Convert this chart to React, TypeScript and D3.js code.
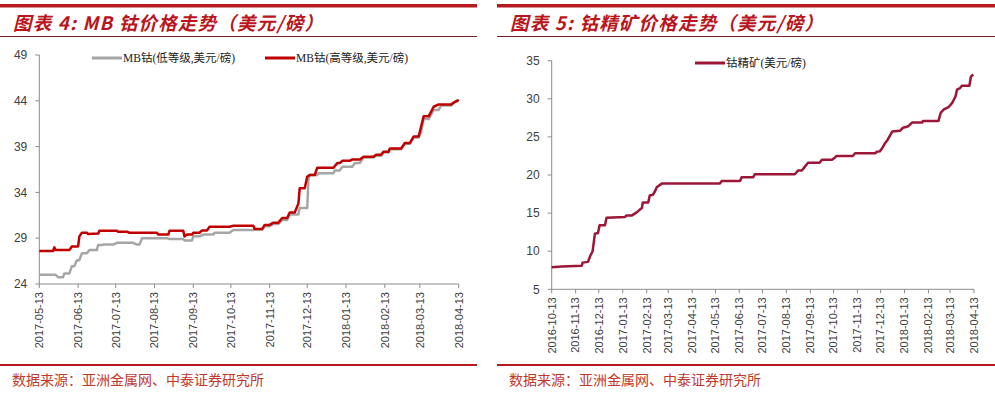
import React from "react";
import * as d3 from "d3";

// ---------- DATA ----------
const leftTitle = "图表 4:  MB 钴价格走势（美元/磅）";
const rightTitle = "图表 5:  钴精矿价格走势（美元/磅）";
const sourceText = "数据来源：亚洲金属网、中泰证券研究所";

const leftSeriesNames = ["MB钴(低等级,美元/磅)", "MB钴(高等级,美元/磅)"];
const rightSeriesName = "钴精矿(美元/磅)";

const leftYTicks = [24, 29, 34, 39, 44, 49];
const rightYTicks = [5, 10, 15, 20, 25, 30, 35];

const leftXTicks = [
  "2017-05-13", "2017-06-13", "2017-07-13", "2017-08-13", "2017-09-13", "2017-10-13",
  "2017-11-13", "2017-12-13", "2018-01-13", "2018-02-13", "2018-03-13", "2018-04-13",
];
const rightXTicks = [
  "2016-10-13", "2016-11-13", "2016-12-13", "2017-01-13", "2017-02-13", "2017-03-13",
  "2017-04-13", "2017-05-13", "2017-06-13", "2017-07-13", "2017-08-13", "2017-09-13",
  "2017-10-13", "2017-11-13", "2017-12-13", "2018-01-13", "2018-02-13", "2018-03-13",
  "2018-04-13",
];

const mbLow: [string, number][] = [
  ["2017-05-13", 25.0], ["2017-05-26", 25.0], ["2017-05-28", 24.75], ["2017-06-01", 24.75],
  ["2017-06-02", 25.15], ["2017-06-06", 25.15], ["2017-06-08", 25.95], ["2017-06-10", 25.95],
  ["2017-06-12", 26.6], ["2017-06-14", 26.6], ["2017-06-16", 27.35], ["2017-06-20", 27.35],
  ["2017-06-22", 27.7], ["2017-06-28", 27.7], ["2017-06-29", 28.25], ["2017-07-02", 28.25],
  ["2017-07-03", 28.3], ["2017-07-11", 28.3], ["2017-07-14", 28.5], ["2017-07-27", 28.5],
  ["2017-07-30", 28.3], ["2017-08-01", 28.3], ["2017-08-03", 29.0], ["2017-08-23", 29.0],
  ["2017-08-25", 28.9], ["2017-09-05", 28.9], ["2017-09-06", 28.75], ["2017-09-12", 28.75],
  ["2017-09-13", 29.2], ["2017-09-18", 29.2], ["2017-09-21", 29.4], ["2017-09-29", 29.4],
  ["2017-09-30", 29.6], ["2017-10-12", 29.6], ["2017-10-15", 29.9], ["2017-10-31", 29.9],
  ["2017-11-01", 29.95], ["2017-11-07", 29.95], ["2017-11-09", 30.3], ["2017-11-13", 30.3],
  ["2017-11-16", 30.55], ["2017-11-20", 30.55], ["2017-11-23", 31.0], ["2017-11-27", 31.0],
  ["2017-11-29", 31.6], ["2017-12-06", 31.6], ["2017-12-07", 32.3], ["2017-12-13", 32.3],
  ["2017-12-14", 35.5], ["2017-12-15", 35.9], ["2017-12-21", 35.9], ["2017-12-22", 36.1],
  ["2018-01-03", 36.1], ["2018-01-04", 36.4], ["2018-01-08", 36.4], ["2018-01-10", 36.8],
  ["2018-01-18", 36.8], ["2018-01-20", 37.2], ["2018-01-24", 37.2], ["2018-01-27", 37.8],
  ["2018-02-04", 37.8], ["2018-02-06", 38.0], ["2018-02-10", 38.0], ["2018-02-12", 38.35],
  ["2018-02-16", 38.35], ["2018-02-17", 38.7], ["2018-02-26", 38.7], ["2018-03-01", 39.3],
  ["2018-03-05", 39.3], ["2018-03-08", 40.0], ["2018-03-12", 40.0], ["2018-03-14", 40.6],
  ["2018-03-16", 42.0], ["2018-03-20", 42.0], ["2018-03-24", 43.0], ["2018-03-28", 43.0],
  ["2018-03-30", 43.5], ["2018-04-07", 43.5], ["2018-04-09", 43.8], ["2018-04-13", 44.0],
];

const mbHigh: [string, number][] = [
  ["2017-05-13", 27.6], ["2017-05-24", 27.6], ["2017-05-25", 28.0], ["2017-05-26", 27.7],
  ["2017-06-06", 27.7], ["2017-06-08", 28.1], ["2017-06-13", 28.1], ["2017-06-14", 29.2],
  ["2017-06-16", 29.6], ["2017-06-20", 29.6], ["2017-06-21", 29.45], ["2017-06-29", 29.5],
  ["2017-06-30", 29.8], ["2017-07-14", 29.8], ["2017-07-15", 29.7], ["2017-07-22", 29.7],
  ["2017-07-24", 29.6], ["2017-08-15", 29.6], ["2017-08-16", 29.4], ["2017-08-24", 29.4],
  ["2017-08-25", 29.8], ["2017-09-05", 29.8], ["2017-09-06", 29.2], ["2017-09-08", 29.4],
  ["2017-09-12", 29.4], ["2017-09-13", 29.6], ["2017-09-18", 29.6], ["2017-09-20", 29.85],
  ["2017-09-24", 29.85], ["2017-09-26", 30.25], ["2017-10-12", 30.25], ["2017-10-15", 30.35],
  ["2017-10-31", 30.35], ["2017-11-01", 30.0], ["2017-11-07", 30.0], ["2017-11-09", 30.45],
  ["2017-11-13", 30.45], ["2017-11-16", 30.7], ["2017-11-20", 30.7], ["2017-11-23", 31.2],
  ["2017-11-27", 31.2], ["2017-11-29", 31.8], ["2017-12-03", 31.8], ["2017-12-06", 32.8],
  ["2017-12-07", 34.45], ["2017-12-11", 34.45], ["2017-12-13", 35.7], ["2017-12-15", 35.9],
  ["2017-12-19", 35.9], ["2017-12-21", 36.7], ["2018-01-03", 36.7], ["2018-01-06", 37.2],
  ["2018-01-08", 37.2], ["2018-01-10", 37.45], ["2018-01-16", 37.45], ["2018-01-18", 37.6],
  ["2018-01-24", 37.6], ["2018-01-27", 37.9], ["2018-02-04", 37.9], ["2018-02-06", 38.1],
  ["2018-02-10", 38.1], ["2018-02-12", 38.45], ["2018-02-16", 38.45], ["2018-02-17", 38.8],
  ["2018-02-26", 38.8], ["2018-03-01", 39.4], ["2018-03-05", 39.4], ["2018-03-08", 40.1],
  ["2018-03-12", 40.1], ["2018-03-14", 41.2], ["2018-03-16", 42.3], ["2018-03-20", 42.3],
  ["2018-03-24", 43.35], ["2018-03-28", 43.6], ["2018-04-07", 43.6], ["2018-04-09", 43.8],
  ["2018-04-13", 44.1],
];

const cobaltConc: [string, number][] = [
  ["2016-10-13", 7.9], ["2016-10-26", 8.0], ["2016-11-21", 8.1], ["2016-11-22", 8.5],
  ["2016-11-29", 8.6], ["2016-12-02", 9.4], ["2016-12-05", 10.0], ["2016-12-08", 12.3],
  ["2016-12-12", 12.4], ["2016-12-14", 13.4], ["2016-12-21", 13.4], ["2016-12-23", 14.4],
  ["2017-01-16", 14.5], ["2017-01-18", 14.7], ["2017-01-25", 14.7], ["2017-01-31", 15.1],
  ["2017-02-07", 15.7], ["2017-02-08", 16.4], ["2017-02-15", 16.4], ["2017-02-17", 17.3],
  ["2017-02-21", 17.4], ["2017-02-24", 17.9], ["2017-02-26", 18.4], ["2017-03-05", 18.9],
  ["2017-05-19", 18.9], ["2017-05-21", 19.2], ["2017-06-14", 19.2], ["2017-06-16", 19.7],
  ["2017-07-01", 19.7], ["2017-07-03", 20.1], ["2017-08-24", 20.1], ["2017-08-28", 20.6],
  ["2017-09-02", 20.6], ["2017-09-06", 21.1], ["2017-09-10", 21.6], ["2017-09-25", 21.6],
  ["2017-09-28", 22.0], ["2017-10-11", 22.0], ["2017-10-15", 22.3], ["2017-10-17", 22.5],
  ["2017-11-07", 22.5], ["2017-11-10", 22.85], ["2017-12-06", 22.85], ["2017-12-08", 23.05],
  ["2017-12-12", 23.1], ["2017-12-15", 23.5], ["2017-12-19", 24.2], ["2017-12-22", 24.6],
  ["2017-12-28", 25.7], ["2018-01-07", 25.8], ["2018-01-11", 26.2], ["2018-01-18", 26.4],
  ["2018-01-23", 26.9], ["2018-02-05", 26.9], ["2018-02-06", 27.1], ["2018-02-26", 27.1],
  ["2018-03-01", 28.2], ["2018-03-05", 28.6], ["2018-03-11", 28.9], ["2018-03-16", 29.5],
  ["2018-03-20", 30.3], ["2018-03-22", 31.2], ["2018-03-26", 31.4], ["2018-03-28", 31.7],
  ["2018-04-07", 31.7], ["2018-04-09", 32.9], ["2018-04-12", 33.2],
];

// ---------- STYLE ----------
const RED = "#B31B1F";
const TITLE_RED = "#B8161C";
const HIGH_RED = "#C00000";
const LOW_GRAY = "#A6A6A6";
const CONC_RED = "#9C1638";
const AXIS = "#8C8C8C";
const TICK_TEXT = "#404040";
const SANS = "Arial, 'Liberation Sans', 'Noto Sans CJK SC', sans-serif";
const SERIF = "'Liberation Serif', 'Times New Roman', 'Noto Sans CJK SC', serif";
const CJK = "'Noto Sans CJK SC', sans-serif";

const parse = d3.timeParse("%Y-%m-%d");
const fmt = d3.timeFormat("%Y-%m-%d");

type Series = { name: string; data: [string, number][]; color: string; width: number };

function Panel(props: {
  x0: number; x1: number; title: string; titleLen: number;
  plot: { left: number; right: number; top: number; bottom: number };
  yTicks: number[]; xTicks: string[]; series: Series[];
  legend: { x: number; y: number; items: { name: string; color: string; dx: number }[] };
}) {
  const { x0, x1, title, titleLen, plot, yTicks, xTicks, series, legend } = props;
  const xs = d3.scaleTime()
    .domain([parse(xTicks[0])!, parse(xTicks[xTicks.length - 1])!])
    .range([plot.left, plot.right]);
  const ys = d3.scaleLinear()
    .domain([yTicks[0], yTicks[yTicks.length - 1]])
    .range([plot.bottom, plot.top]);
  const line = d3.line<[string, number]>()
    .x((d) => xs(parse(d[0])!))
    .y((d) => ys(d[1]));
  return (
    <g>
      <rect x={x0} y={4} width={x1 - x0} height={3.5} fill={RED} />
      <text x={x0 + 13} y={30} fill={TITLE_RED} fontFamily={CJK} fontStyle="italic"
        fontWeight="bold" fontSize={18.5} textLength={titleLen} lengthAdjust="spacing">{title}</text>
      <line x1={x0} x2={x1} y1={36.5} y2={36.5} stroke="#7E1F1F" strokeWidth={1} />
      {/* axes */}
      <line x1={plot.left} x2={plot.left} y1={plot.top} y2={plot.bottom} stroke={AXIS} />
      <line x1={plot.left} x2={plot.right} y1={plot.bottom} y2={plot.bottom} stroke={AXIS} />
      {yTicks.map((t) => (
        <g key={t}>
          <line x1={plot.left - 4} x2={plot.left} y1={ys(t)} y2={ys(t)} stroke={AXIS} />
          <text x={plot.left - 12} y={ys(t)} dy="0.35em" textAnchor="end" fontSize={12}
            fontFamily={SANS} fill={TICK_TEXT}>{t}</text>
        </g>
      ))}
      {xTicks.map((t) => {
        const xx = xs(parse(t)!);
        return (
          <g key={t}>
            <line x1={xx} x2={xx} y1={plot.bottom} y2={plot.bottom + 4} stroke={AXIS} />
            <text transform={`translate(${xx},${plot.bottom + 8}) rotate(-90)`} textAnchor="end"
              dy="0.35em" fontSize={11} fontFamily={SANS} fill={TICK_TEXT}>{fmt(parse(t)!)}</text>
          </g>
        );
      })}
      {series.map((s) => (
        <path key={s.name} d={line(s.data) || ""} fill="none" stroke={s.color}
          strokeWidth={s.width} strokeLinejoin="round" />
      ))}
      {legend.items.map((it) => (
        <g key={it.name}>
          <line x1={legend.x + it.dx} x2={legend.x + it.dx + 30} y1={legend.y} y2={legend.y}
            stroke={it.color} strokeWidth={3} />
          <text x={legend.x + it.dx + 31} y={legend.y} dy="0.35em" fontSize={11.5}
            fontFamily={SERIF} fill="#222">{it.name}</text>
        </g>
      ))}
      <rect x={x0} y={364} width={x1 - x0} height={2} fill={RED} />
      <text x={x0 + 12} y={385} fill="#C0392B" fontSize={14} fontFamily={CJK}>{sourceText}</text>
    </g>
  );
}

export default function App() {
  return (
    <div style={{ position: "absolute", left: 0, top: 0 }}>
      <svg width={995} height={395} style={{ display: "block", background: "#fff" }}>
        <rect width={995} height={395} fill="#fff" />
        <Panel
          x0={0} x1={477} title={leftTitle} titleLen={310}
          plot={{ left: 39.3, right: 458.7, top: 55, bottom: 284 }}
          yTicks={leftYTicks} xTicks={leftXTicks}
          series={[
            { name: leftSeriesNames[0], data: mbLow, color: LOW_GRAY, width: 2.5 },
            { name: leftSeriesNames[1], data: mbHigh, color: HIGH_RED, width: 2.5 },
          ]}
          legend={{ x: 92, y: 58, items: [
            { name: leftSeriesNames[0], color: LOW_GRAY, dx: 0 },
            { name: leftSeriesNames[1], color: HIGH_RED, dx: 173 },
          ] }}
        />
        <Panel
          x0={497} x1={995} title={rightTitle} titleLen={313}
          plot={{ left: 551.7, right: 974, top: 60.7, bottom: 289.3 }}
          yTicks={rightYTicks} xTicks={rightXTicks}
          series={[{ name: rightSeriesName, data: cobaltConc, color: CONC_RED, width: 2.5 }]}
          legend={{ x: 695, y: 63, items: [{ name: rightSeriesName, color: CONC_RED, dx: 0 }] }}
        />
      </svg>
    </div>
  );
}
